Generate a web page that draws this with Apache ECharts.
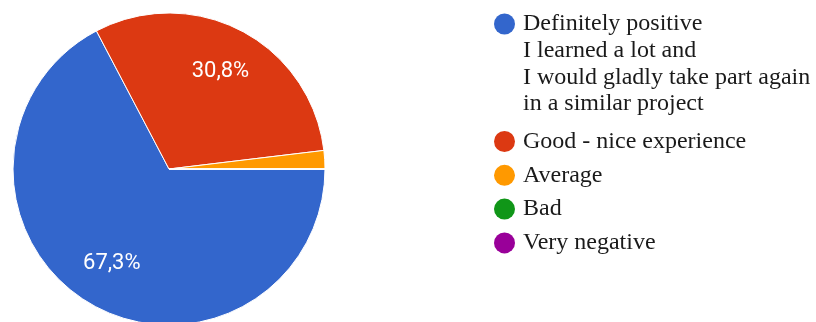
<!DOCTYPE html>
<html>
<head>
<meta charset="utf-8">
<script src="https://cdn.jsdelivr.net/npm/echarts@6/dist/echarts.min.js"></script>
<style>
  html, body { margin: 0; padding: 0; background: #ffffff; }
  #chart { width: 816px; height: 322px; }
</style>
</head>
<body>
<div id="chart"></div>
<script>
// Survey answers (share of respondents, %)
const categories = [
  'Definitely positive\nI learned a lot and\nI would gladly take part again\nin a similar project',
  'Good - nice experience',
  'Average',
  'Bad',
  'Very negative'
];
const shares = [67.3, 30.8, 1.9, 0, 0];
const palette = ['#3366cc', '#dc3912', '#ff9900', '#109618', '#990099'];

const CX = 169, CY = 169, R = 156;
const serif = 'Liberation Serif';

const pieData = categories.map((name, i) => ({ name: name, value: shares[i] }));
const firstLines = categories[0].split('\n');

const legendText = {
  fontFamily: serif, fontSize: 24, color: '#1a1a1a', lineHeight: 26, padding: [0, 0, 0, 3]
};

const chart = echarts.init(document.getElementById('chart'), null, { renderer: 'canvas' });

chart.setOption({
  backgroundColor: '#ffffff',
  color: palette,
  animation: false,
  legend: [
    {
      data: [categories[0]],
      left: 494,
      top: 11,
      padding: 0,
      orient: 'vertical',
      icon: 'circle',
      itemWidth: 21,
      itemHeight: 21,
      itemStyle: { borderWidth: 0 },
      formatter: name => name.split('\n')[0],
      textStyle: legendText
    },
    {
      data: categories.slice(1),
      left: 494,
      top: 128.5,
      padding: 0,
      orient: 'vertical',
      icon: 'circle',
      itemWidth: 21,
      itemHeight: 21,
      itemGap: 7.8,
      itemStyle: { borderWidth: 0 },
      textStyle: legendText
    }
  ],
  graphic: [
    {
      type: 'text',
      left: 523,
      top: 38,
      style: {
        text: firstLines.slice(1).join('\n'),
        font: '24px "' + serif + '"',
        lineHeight: 26.3,
        fill: '#1a1a1a'
      }
    }
  ],
  series: [
    {
      type: 'pie',
      center: [CX, CY],
      radius: [0, R],
      startAngle: 0,
      clockwise: true,
      avoidLabelOverlap: false,
      silent: true,
      label: { show: false },
      labelLine: { show: false },
      itemStyle: { borderColor: '#ffffff', borderWidth: 1 },
      data: pieData
    },
    {
      // transparent ring that carries the percentage labels further out
      type: 'pie',
      center: [CX, CY],
      radius: [R * 0.38, R],
      startAngle: 0,
      clockwise: true,
      avoidLabelOverlap: false,
      silent: true,
      itemStyle: { color: 'rgba(0,0,0,0)', borderWidth: 0 },
      labelLine: { show: false },
      label: {
        show: true,
        position: 'inside',
        color: '#ffffff',
        fontFamily: 'Roboto',
        fontSize: 22,
        formatter: p => p.value >= 5 ? p.value.toFixed(1).replace('.', ',') + '%' : ''
      },
      data: pieData
    }
  ]
});
</script>
</body>
</html>
